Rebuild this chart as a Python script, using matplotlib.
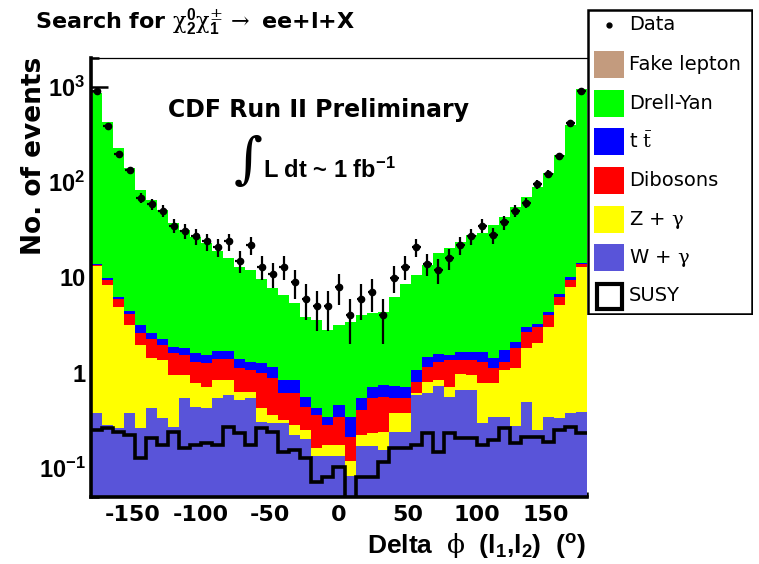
import numpy as np
import matplotlib
matplotlib.use("Agg")
import matplotlib.pyplot as plt
from matplotlib.patches import Rectangle
from matplotlib.ticker import MultipleLocator, LogLocator, NullFormatter

plt.rcParams["font.family"] = ["Liberation Sans", "DejaVu Sans"]
plt.rcParams["axes.unicode_minus"] = False
plt.rcParams["mathtext.fontset"] = "custom"
plt.rcParams["mathtext.rm"] = "DejaVu Serif"
plt.rcParams["mathtext.it"] = "DejaVu Serif:italic"
plt.rcParams["mathtext.bf"] = "Liberation Sans:bold"
plt.rcParams["mathtext.sf"] = "Liberation Sans"

WIDE = ["DejaVu Sans"]

# 45 bins of 8 degrees from -180 to 180
bin_edges = np.linspace(-180, 180, 46)

data_counts = [901, 387, 197, 134, 68, 59, 50, 35, 31, 27, 24, 21, 24, 15, 22,
               13, 11, 13, 9, 6, 5, 5, 8, 4, 6, 7, 4, 10, 13, 21, 14, 12, 16,
               22, 27, 35, 28, 38, 50, 61, 95, 122, 188, 420, 908]

w_gamma = [0.377, 0.284, 0.262, 0.377, 0.262, 0.426, 0.334, 0.273, 0.542, 0.442,
           0.426, 0.542, 0.587, 0.520, 0.542, 0.308, 0.296, 0.296, 0.223, 0.200,
           0.132, 0.132, 0.132, 0.082, 0.169, 0.169, 0.156, 0.242, 0.242, 0.587,
           0.611, 0.729, 0.563, 0.662, 0.662, 0.296, 0.347, 0.347, 0.278, 0.500,
           0.252, 0.347, 0.334, 0.377, 0.392]
z_gamma = [12.82, 8.06, 4.68, 2.80, 1.70, 0.99, 1.03, 0.68, 0.41, 0.34,
           0.29, 0.30, 0.26, 0.115, 0.093, 0.118, 0.066, 0.025, 0.061, 0.050,
           0.030, 0.043, 0.043, 0.035, 0.054, 0.064, 0.086, 0.135, 0.135, 0.024,
           0.198, 0.114, 0.153, 0.312, 0.289, 0.482, 0.431, 0.723, 0.842, 1.31,
           1.79, 2.70, 4.82, 7.56, 12.5]
dibosons = [0.30, 1.08, 0.97, 0.93, 0.64, 0.83, 0.60, 0.65, 0.59, 0.53,
            0.54, 0.56, 0.56, 0.485, 0.435, 0.564, 0.516, 0.29, 0.327, 0.192,
            0.20, 0.109, 0.172, 0.097, 0.185, 0.309, 0.321, 0.165, 0.165, 0.198,
            0.351, 0.467, 0.644, 0.386, 0.409, 0.532, 0.342, 0.24, 0.69, 0.89,
            1.01, 1.00, 1.14, 1.48, 1.0]
ttbar = [0.40, 0.46, 0.38, 0.38, 0.58, 0.35, 0.29, 0.28, 0.30, 0.32,
         0.28, 0.30, 0.30, 0.28, 0.24, 0.27, 0.27, 0.23, 0.23, 0.12,
         0.064, 0.063, 0.114, 0.133, 0.134, 0.174, 0.183, 0.188, 0.174, 0.261,
         0.30, 0.27, 0.18, 0.31, 0.31, 0.36, 0.30, 0.43, 0.31, 0.35,
         0.20, 0.33, 0.42, 0.68, 0.30]
drell_yan = [845, 417, 222, 137, 79.4, 62.3, 48.8, 35.3, 29.7, 25.0,
             21.5, 17.3, 14.3, 11.5, 10.7, 8.38, 6.61, 5.72, 4.56, 3.29,
             3.16, 2.47, 2.72, 3.09, 3.51, 3.50, 3.63, 5.56, 7.78, 9.53,
             12.0, 16.5, 18.9, 21.9, 26.2, 27.6, 34.1, 41.3, 52.7, 66.8,
             85.7, 121, 185, 387, 932]
fake_lepton = [0.0] * 45
susy = [0.252, 0.262, 0.242, 0.223, 0.127, 0.206, 0.175, 0.242, 0.162, 0.175,
        0.183, 0.175, 0.273, 0.233, 0.175, 0.262, 0.242, 0.149, 0.156, 0.127,
        0.072, 0.082, 0.104, 0.0, 0.082, 0.082, 0.117, 0.162, 0.162, 0.175,
        0.233, 0.149, 0.233, 0.206, 0.206, 0.175, 0.198, 0.262, 0.183, 0.214,
        0.214, 0.190, 0.252, 0.273, 0.233]

stack = [
    ("W + $\\mathrm{\\gamma}$", w_gamma, "#5954d9"),
    ("Z + $\\mathrm{\\gamma}$", z_gamma, "#ffff00"),
    ("Dibosons", dibosons, "#ff0000"),
    ("t $\\bar{\\mathrm{t}}$", ttbar, "#0000ff"),
    ("Drell-Yan", drell_yan, "#00ff00"),
    ("Fake lepton", fake_lepton, "#c39b7e"),
]

W, H = 759, 564
fig = plt.figure(figsize=(W / 100, H / 100), dpi=100)
ax = fig.add_axes([91 / W, 1 - 497 / H, 496 / W, 439 / H])

bottom = np.full(45, 1e-3)
for name, vals, col in stack:
    top = bottom + np.asarray(vals)
    ax.stairs(top, bin_edges, baseline=bottom, fill=True, color=col, lw=0, zorder=2)
    bottom = top

ax.stairs(np.maximum(susy, 1e-3), bin_edges, baseline=None, color="black", lw=2.6, zorder=3)

centers = 0.5 * (bin_edges[:-1] + bin_edges[1:])
counts = np.asarray(data_counts, dtype=float)
ax.errorbar(centers, counts, yerr=np.sqrt(counts), xerr=3.2, fmt="o", ms=4.5,
            color="black", elinewidth=1.6, capsize=0, zorder=4)

ax.set_yscale("log")
ax.set_xlim(-180, 180)
ax.set_ylim(0.05, 2000)

ax.set_xticks(range(-150, 151, 50))
ax.xaxis.set_minor_locator(MultipleLocator(10))
ax.set_yticks([0.1, 1, 10, 100, 1000])
ax.set_yticklabels(["$\\mathbf{10^{-1}}$", "1", "10", "$\\mathbf{10^{2}}$", "$\\mathbf{10^{3}}$"])
ax.yaxis.set_minor_locator(LogLocator(subs=np.arange(2, 10)))
ax.yaxis.set_minor_formatter(NullFormatter())
ax.tick_params(axis="both", which="both", direction="in", top=False, right=False,
               width=1.8, zorder=5)
ax.tick_params(axis="x", which="major", length=7, pad=6, labelsize=16)
ax.tick_params(axis="x", which="minor", length=3.5)
ax.tick_params(axis="y", which="major", length=12, pad=4, labelsize=17)
ax.tick_params(axis="y", which="minor", length=6)
for lab in ax.get_xticklabels():
    lab.set_fontweight("bold")
    lab.set_family(WIDE)
for lab in ax.get_yticklabels():
    lab.set_fontweight("bold")

ax.spines["right"].set_visible(False)
ax.spines["top"].set_linewidth(0.9)
ax.spines["left"].set_linewidth(2.6)
ax.spines["bottom"].set_linewidth(2.6)
for s in ax.spines.values():
    s.set_zorder(6)

fig.text(35 / W, 1 - 29 / H,
         "Search for $\\mathrm{\\chi}^{\\mathbf{0}}_{\\mathbf{2}}\\mathrm{\\chi}^{\\pm}_{\\mathbf{1}}"
         "\\,\\rightarrow$ ee+l+X",
         fontsize=16, weight="bold", va="baseline", family=WIDE)
fig.text(318 / W, 1 - 117 / H, "CDF Run II Preliminary", ha="center", va="baseline",
         fontsize=17, weight="bold", family=WIDE)
fig.text(248 / W, 1 - 162 / H, "\u222b", ha="center", va="center",
         fontsize=40, family="DejaVu Serif")
fig.text(263 / W, 1 - 178 / H, "L dt ~ 1 fb$^{\\mathbf{-1}}$", va="baseline",
         fontsize=17, weight="bold")
fig.text(586 / W, 1 - 553 / H,
         "Delta  $\\mathrm{\\phi}$  (l$_{\\mathbf{1}}$,l$_{\\mathbf{2}}$)  ($^{\\mathbf{o}}$)",
         ha="right", va="baseline", fontsize=19, weight="bold")
fig.text(34 / W, 1 - 156 / H, "No. of events", rotation=90, ha="center", va="center",
         fontsize=19, weight="bold", family=WIDE)

# legend box
lax = fig.add_axes([587 / W, 1 - 315 / H, 166 / W, 306 / H])
lax.set_xlim(587, 753)
lax.set_ylim(315, 9)
lax.axis("off")
lax.add_patch(Rectangle((588, 10), 164, 304, facecolor="white", edgecolor="black", lw=1.8))
lax.plot([609], [25], "o", color="black", ms=3.5)
lax.text(629, 25, "Data", va="center", fontsize=14, family=WIDE)
legend_rows = [("Fake lepton", "#c39b7e", 65), ("Drell-Yan", "#00ff00", 104),
               ("t $\\bar{\\mathrm{t}}$", "#0000ff", 142), ("Dibosons", "#ff0000", 181),
               ("Z + $\\mathrm{\\gamma}$", "#ffff00", 220), ("W + $\\mathrm{\\gamma}$", "#5954d9", 258)]
for label, col, yc in legend_rows:
    lax.add_patch(Rectangle((594, yc - 13.5), 30, 27, facecolor=col, edgecolor="none"))
    lax.text(629, yc, label, va="center", fontsize=14, family=WIDE)
lax.add_patch(Rectangle((597, 284), 25, 25, facecolor="white", edgecolor="black", lw=3))
lax.text(629, 296, "SUSY", va="center", fontsize=14, family=WIDE)

fig.savefig("out.png", dpi=100)
